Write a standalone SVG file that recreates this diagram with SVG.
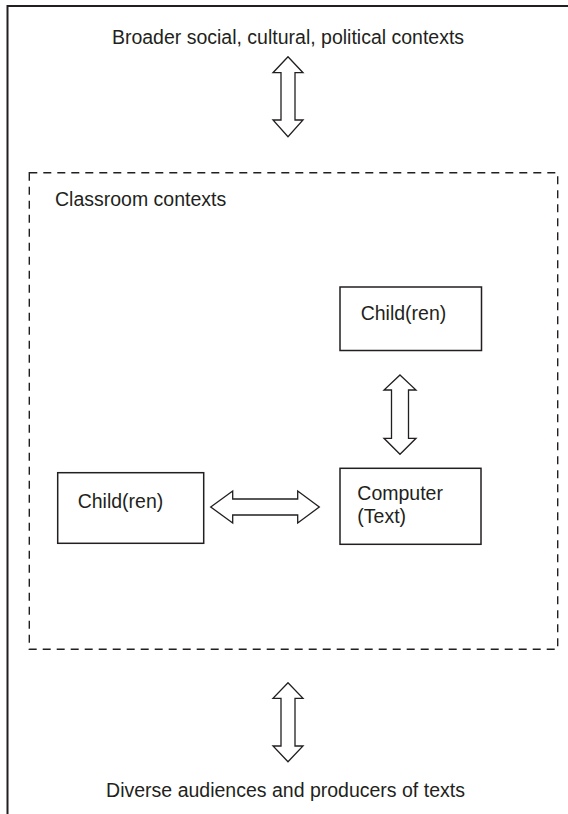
<svg xmlns="http://www.w3.org/2000/svg" width="568" height="814" viewBox="0 0 568 814">
<style>
.t{font-family:"Liberation Sans",Arial,sans-serif;font-size:19.5px;fill:#231f20}
.box{fill:#fff;stroke:#231f20;stroke-width:1.5}
.arr{fill:#fff;stroke:#231f20;stroke-width:1.3;stroke-linejoin:miter}
.frame{fill:none;stroke:#231f20;stroke-width:2}
.dash{fill:none;stroke:#231f20;stroke-width:1.4;stroke-dasharray:8 6}
</style>
<rect width="568" height="814" fill="#fff"/>
<path class="frame" d="M7.5 814 V6 H568"/>
<g id="broader"><text class="t" x="288" y="44" text-anchor="middle">Broader social, cultural, political contexts</text></g>
<g id="classroom">
<rect class="dash" x="29.3" y="172.7" width="528.4" height="476.6"/>
<text class="t" x="55" y="205.7">Classroom contexts</text>
</g>
<g id="child-top"><rect class="box" x="340" y="287" width="141.5" height="63.5"/><text class="t" x="360.7" y="320">Child(ren)</text></g>
<g id="child-left"><rect class="box" x="57.7" y="472.7" width="146" height="70.6"/><text class="t" x="77.7" y="508.3">Child(ren)</text></g>
<g id="computer"><rect class="box" x="340" y="468.3" width="141" height="76"/><text class="t" x="357.3" y="500">Computer</text><text class="t" x="357.3" y="523.3">(Text)</text></g>
<g id="diverse"><text class="t" x="285.5" y="797" text-anchor="middle">Diverse audiences and producers of texts</text></g>
<g id="connectors">
<path class="arr" d="M288 56.7 L303 72.7 H295 V120 H303 L288 136.7 L273 120 H281 V72.7 H273 Z"/>
<path class="arr" d="M400 375 L416 390 H408.5 V438.3 H416 L400 454.3 L384 438.3 H391.5 V390 H384 Z"/>
<path class="arr" d="M210.7 507 L232.7 491 V499 H297.7 V491 L319.3 507 L297.7 523 V515 H232.7 V523 Z"/>
<path class="arr" d="M288 682.7 L303 698.3 H295 V746 H303 L288 761.7 L273 746 H281 V698.3 H273 Z"/>
</g>
</svg>
